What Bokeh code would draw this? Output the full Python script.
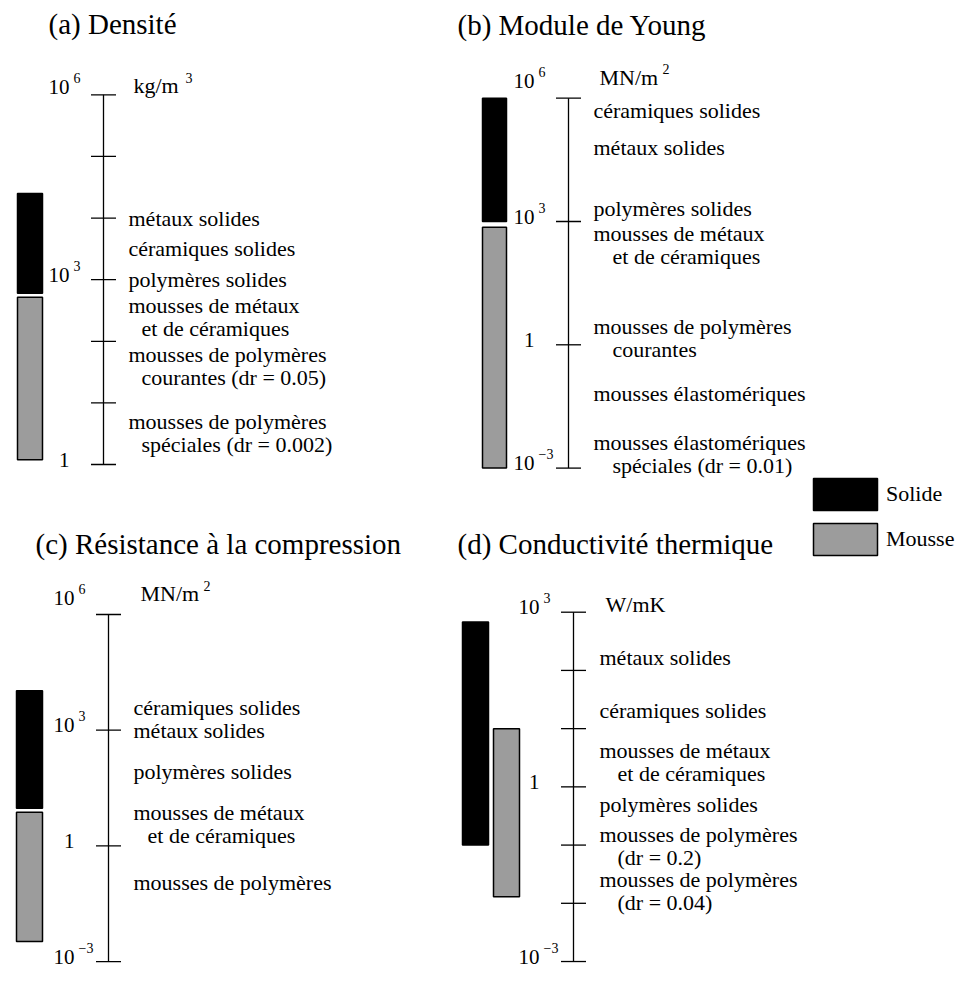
import math
from bokeh.plotting import figure
from bokeh.models import Range1d, LogScale, ColumnDataSource, Legend, LegendItem
from bokeh.core.properties import value
from bokeh.embed import file_html
from bokeh.resources import INLINE

# ---------------- data ----------------
# (a) Densité, kg/m3
a_title = "(a) Densité"
a_unit = ["kg/m", "3"]
a_ticks = [1e0, 1e1, 1e2, 1e3, 1e4, 1e5, 1e6]
a_solid = [6.0e2, 2.5e4]
a_foam = [1.2, 5.2e2]
a_labels = [["métaux solides"],
            ["céramiques solides"],
            ["polymères solides"],
            ["mousses de métaux", "et de céramiques"],
            ["mousses de polymères", "courantes (dr = 0.05)"],
            ["mousses de polymères", "spéciales (dr = 0.002)"]]
a_label_at = [1e4, 10 ** 3.5, 1e3, 10 ** 2.58, 10 ** 1.78, 10 ** 0.70]

# (b) Module de Young, MN/m2
b_title = "(b) Module de Young"
b_unit = ["MN/m", "2"]
b_ticks = [1e-3, 1e0, 1e3, 1e6]
b_solid = [1e3, 1e6]
b_foam = [1e-3, 7.2e2]
b_labels = [["céramiques solides"],
            ["métaux solides"],
            ["polymères solides"],
            ["mousses de métaux", "et de céramiques"],
            ["mousses de polymères", "courantes"],
            ["mousses élastomériques"],
            ["mousses élastomériques", "spéciales (dr = 0.01)"]]
b_label_at = [10 ** 5.71, 10 ** 4.81, 10 ** 3.32, 10 ** 2.72, 10 ** 0.45, 10 ** -1.18, 10 ** -2.37]

# (c) Résistance à la compression, MN/m2
c_title = "(c) Résistance à la compression"
c_unit = ["MN/m", "2"]
c_ticks = [1e-3, 1e0, 1e3, 1e6]
c_solid = [9.5, 1.05e4]
c_foam = [3.3e-3, 7.4]
c_labels = [["céramiques solides"],
            ["métaux solides"],
            ["polymères solides"],
            ["mousses de métaux", "et de céramiques"],
            ["mousses de polymères"]]
c_label_at = [10 ** 3.58, 10 ** 3.0, 10 ** 1.94, 10 ** 0.86, 10 ** -0.95]

# (d) Conductivité thermique, W/mK
d_title = "(d) Conductivité thermique"
d_unit = ["W/mK", ""]
d_ticks = [1e-3, 1e-2, 1e-1, 1e0, 1e1, 1e2, 1e3]
d_solid = [0.1, 6.8e2]
d_foam = [1.3e-2, 10.0]
d_labels = [["métaux solides"],
            ["céramiques solides"],
            ["mousses de métaux", "et de céramiques"],
            ["polymères solides"],
            ["mousses de polymères", "(dr = 0.2)"],
            ["mousses de polymères", "(dr = 0.04)"]]
d_label_at = [10 ** 2.22, 10 ** 1.31, 10 ** 0.62, 10 ** -0.30, 10 ** -0.81, 10 ** -1.59]

legend_labels = ["Solide", "Mousse"]

# ---------------- layout (picture pixel positions) ----------------
W, H = 955, 968

panels = [
    dict(key="a", title=a_title, unit=a_unit, ticks=a_ticks, solid=a_solid, foam=a_foam,
         labels=a_labels, label_at=a_label_at,
         axis_x=103, ref_log=6, ref_y=94.3, dec=61.62,
         solid_x=(17, 42), foam_x=(17, 42), label_x=128, indent=13,
         title_xy=(48, 23), unit_x=133, unit_sup_x=185, top_raise=-3, unit_dy=-9),
    dict(key="b", title=b_title, unit=b_unit, ticks=b_ticks, solid=b_solid, foam=b_foam,
         labels=b_labels, label_at=b_label_at,
         axis_x=568, ref_log=6, ref_y=97.7, dec=41.1,
         solid_x=(482, 506), foam_x=(482, 506), label_x=593, indent=19,
         title_xy=(457, 24), unit_x=599, unit_sup_x=662, top_raise=-12, unit_dy=-21),
    dict(key="c", title=c_title, unit=c_unit, ticks=c_ticks, solid=c_solid, foam=c_foam,
         labels=c_labels, label_at=c_label_at,
         axis_x=108, ref_log=6, ref_y=614, dec=38.56,
         solid_x=(16, 42), foam_x=(16, 42), label_x=133, indent=14,
         title_xy=(35, 543), unit_x=140, unit_sup_x=203, top_raise=-12, unit_dy=-21),
    dict(key="d", title=d_title, unit=d_unit, ticks=d_ticks, solid=d_solid, foam=d_foam,
         labels=d_labels, label_at=d_label_at,
         axis_x=573, ref_log=3, ref_y=611.7, dec=58.22,
         solid_x=(462, 488), foam_x=(493, 519), label_x=599, indent=18,
         title_xy=(457, 543), unit_x=605, unit_sup_x=0, top_raise=0, unit_dy=-8),
]

FONT = value("Liberation Serif")
BLACK = "#000000"
GREY = "#9c9c9c"
TICK_HALF = 12.5
TICK_LABEL_DY = -5
SUP_DY = -9

p = figure(width=W, height=H,
           x_range=Range1d(0, W), y_range=Range1d(H, 0),
           x_axis_type=None, y_axis_type=None, toolbar_location=None,
           output_backend="svg", min_border=0, outline_line_color=None,
           background_fill_color="white", border_fill_color="white")

extra_ranges = {}
extra_scales = {}
for pn in panels:
    lo = pn["ref_log"] - (H - pn["ref_y"]) / pn["dec"]
    hi = pn["ref_log"] - (0 - pn["ref_y"]) / pn["dec"]
    extra_ranges[pn["key"]] = Range1d(10 ** lo, 10 ** hi)
    extra_scales[pn["key"]] = LogScale()
p.extra_y_ranges = extra_ranges
p.extra_y_scales = extra_scales

solid_renderers = []
foam_renderers = []

for pn in panels:
    k = pn["key"]
    ax = pn["axis_x"]
    ticks = pn["ticks"]
    top_val = max(ticks)

    # title
    p.text(x=[pn["title_xy"][0]], y=[pn["title_xy"][1]], text=[pn["title"]],
           text_font=FONT, text_font_size="29px", text_color=BLACK,
           text_baseline="alphabetic", text_align="left")

    # axis line and ticks
    p.segment(x0=[ax], x1=[ax], y0=[min(ticks)], y1=[max(ticks)], y_range_name=k,
              line_color=BLACK, line_width=1.3)
    p.segment(x0=[ax - TICK_HALF] * len(ticks), x1=[ax + TICK_HALF] * len(ticks),
              y0=ticks, y1=ticks, y_range_name=k, line_color=BLACK, line_width=1.3)

    # tick labels (decades divisible by 3)
    main_t, main_y, main_off, sup_t, sup_y, sup_off = [], [], [], [], [], []
    for t in ticks:
        e = int(round(math.log10(t)))
        if e % 3 != 0:
            continue
        raise_px = pn["top_raise"] if t == top_val else 0
        main_t.append("1" if e == 0 else "10")
        main_y.append(t)
        main_off.append(TICK_LABEL_DY + raise_px)
        if e != 0:
            sup_t.append(str(e).replace("-", "\u2212"))
            sup_y.append(t)
            sup_off.append(TICK_LABEL_DY + raise_px + SUP_DY)
    p.text(x="x", y="y", text="text", y_offset="off", y_range_name=k,
           source=ColumnDataSource(dict(x=[ax - 34] * len(main_t), y=main_y, text=main_t, off=main_off)),
           text_font=FONT, text_font_size="21px", text_align="right",
           text_baseline="alphabetic", text_color=BLACK)
    p.text(x="x", y="y", text="text", y_offset="off", y_range_name=k,
           source=ColumnDataSource(dict(x=[ax - 30] * len(sup_t), y=sup_y, text=sup_t, off=sup_off)),
           text_font=FONT, text_font_size="14px", text_align="left",
           text_baseline="alphabetic", text_color=BLACK)

    # unit
    p.text(x=[pn["unit_x"]], y=[top_val], text=[pn["unit"][0]], y_offset=pn["unit_dy"], y_range_name=k,
           text_font=FONT, text_font_size="22px", text_align="left",
           text_baseline="alphabetic", text_color=BLACK)
    if pn["unit"][1]:
        p.text(x=[pn["unit_sup_x"]], y=[top_val], text=[pn["unit"][1]], y_offset=pn["unit_dy"] - 8,
               y_range_name=k, text_font=FONT, text_font_size="14px", text_align="left",
               text_baseline="alphabetic", text_color=BLACK)

    # bars
    rs = p.quad(left=[pn["solid_x"][0]], right=[pn["solid_x"][1]],
                bottom=[pn["solid"][0]], top=[pn["solid"][1]], y_range_name=k,
                fill_color=BLACK, line_color=BLACK, line_width=1.5)
    rf = p.quad(left=[pn["foam_x"][0]], right=[pn["foam_x"][1]],
                bottom=[pn["foam"][0]], top=[pn["foam"][1]], y_range_name=k,
                fill_color=GREY, line_color=BLACK, line_width=1.5)
    solid_renderers.append(rs)
    foam_renderers.append(rf)

    # material labels
    lx, ly, lt, lxo, lyo = [], [], [], [], []
    for lines, at in zip(pn["labels"], pn["label_at"]):
        for i, line in enumerate(lines):
            lx.append(pn["label_x"])
            ly.append(at)
            lt.append(line)
            lxo.append(pn["indent"] if i > 0 else 0)
            lyo.append(23 * i)
    p.text(x="x", y="y", text="text", x_offset="xo", y_offset="yo", y_range_name=k,
           source=ColumnDataSource(dict(x=lx, y=ly, text=lt, xo=lxo, yo=lyo)),
           text_font=FONT, text_font_size="22px", text_align="left",
           text_baseline="alphabetic", text_color=BLACK)

legend = Legend(items=[LegendItem(label=legend_labels[0], renderers=[solid_renderers[0]]),
                       LegendItem(label=legend_labels[1], renderers=[foam_renderers[0]])],
                location=(805, 409), orientation="vertical",
                glyph_width=80, glyph_height=40, spacing=5, padding=0, margin=0,
                label_standoff=1, label_text_font="Liberation Serif",
                label_text_font_size="22px", label_text_color=BLACK,
                border_line_color=None, background_fill_alpha=0)
p.add_layout(legend, "center")

open("out.html", "w").write(file_html(p, INLINE))
